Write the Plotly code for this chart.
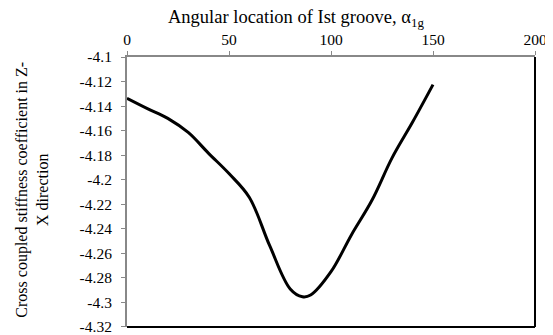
import plotly.graph_objects as go

# angular location of the 1st groove (deg) and stiffness coefficient
alpha_1g = [0, 10, 20, 30, 40, 50, 60, 70, 80, 86, 90, 100, 110, 120, 130, 140, 150]
k_zx = [-4.1336, -4.142, -4.150, -4.1615, -4.1785, -4.195, -4.2145, -4.254, -4.289,
        -4.2954, -4.294, -4.275, -4.245, -4.217, -4.182, -4.153, -4.1225]

y_ticks = [-4.1, -4.12, -4.14, -4.16, -4.18, -4.2, -4.22, -4.24, -4.26, -4.28, -4.3, -4.32]
y_labels = ['-4.1', '-4.12', '-4.14', '-4.16', '-4.18', '-4.2', '-4.22', '-4.24',
            '-4.26', '-4.28', '-4.3', '-4.32']

serif = 'Liberation Serif, Times New Roman, serif'

fig = go.Figure()
fig.add_trace(go.Scatter(x=alpha_1g, y=k_zx, mode='lines',
                         line=dict(color='black', width=3, shape='spline', smoothing=1.0),
                         showlegend=False))

# page body has an 8px margin, so the figure is a bit smaller than the window
fig.update_layout(
    width=545, height=327,
    margin=dict(l=119, r=18, t=49, b=8),
    plot_bgcolor='white', paper_bgcolor='white',
    font=dict(family=serif, size=15.5, color='black'),
)
fig.update_xaxes(side='top', range=[0, 200], dtick=50, showgrid=False, zeroline=False,
                 showline=True, linecolor='#888888', linewidth=2, automargin=False,
                 ticks='outside', ticklen=4, tickcolor='#888888', tickwidth=1,
                 ticklabeloverflow='allow')
fig.update_yaxes(range=[-4.32005, -4.1], tickvals=y_ticks, ticktext=y_labels,
                 showgrid=False, zeroline=False, automargin=False,
                 showline=True, linecolor='#888888', linewidth=2,
                 ticks='outside', ticklen=4, tickcolor='#888888', tickwidth=1,
                 ticklabelstandoff=6, ticklabeloverflow='allow')

# black border on bottom and right
fig.add_shape(type='line', xref='paper', yref='paper', x0=0, x1=1, y0=0, y1=0,
              line=dict(color='black', width=2))
fig.add_shape(type='line', xref='paper', yref='paper', x0=1, x1=1, y0=0, y1=1,
              line=dict(color='black', width=2))

fig.add_annotation(text='Angular location of Ist groove, α<sub>1g</sub>',
                   xref='paper', yref='paper', x=0.414, y=1.0, yshift=39,
                   xanchor='center', yanchor='middle', showarrow=False,
                   font=dict(family=serif, size=18.5))
fig.add_annotation(text='Cross coupled stiffness coefficient in Z-<br>X direction',
                   xref='paper', yref='paper', x=-0.232, y=0.51,
                   xanchor='center', yanchor='middle', showarrow=False, textangle=-90,
                   font=dict(family=serif, size=16))

fig.write_html("out.html")
